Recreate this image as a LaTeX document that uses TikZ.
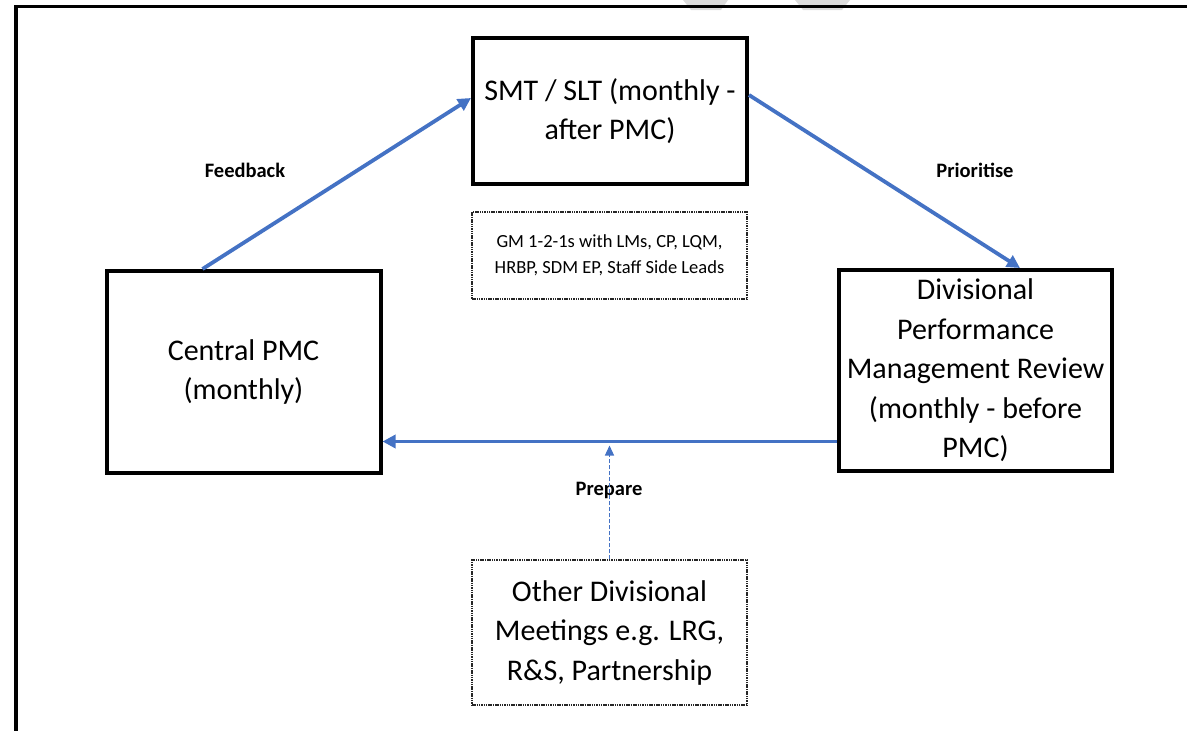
\documentclass[tikz,border=0pt]{standalone}
\usepackage{fontspec}
\setmainfont{Carlito}
\usetikzlibrary{arrows.meta}
\definecolor{arrowblue}{HTML}{4472C4}
\definecolor{wmgray}{HTML}{DCDCDC}
\begin{document}
\begin{tikzpicture}[x=1pt,y=-1pt,
  mainbox/.style={draw=black,line width=4pt,align=center,inner sep=2pt,
    font=\fontsize{30}{39.5}\selectfont},
  notebox/.style={draw=black!85,line width=1.3pt,dash pattern=on 1.5pt off 0.8pt,
    align=center,inner sep=2pt},
  lbl/.style={font=\bfseries\fontsize{20.5}{24}\selectfont,inner sep=0pt},
  bluearrow/.style={draw=arrowblue,line width=3.8pt,-{Triangle[length=13pt,width=13pt]}},
  dasharrow/.style={draw=arrowblue,line width=1.2pt,dash pattern=on 4pt off 2pt,
    -{Triangle[length=10pt,width=9pt]}}]
\useasboundingbox (0,0) rectangle (1187,731);
% faint watermark fragments
\fill[wmgray] (683,0) -- (728,0) -- (721,10) -- (691,10) -- cycle;
\fill[wmgray] (795,0) -- (850,0) -- (842,10) -- (803,10) -- cycle;
% frame
\draw[line width=3.6pt] (16,731) -- (16,6.5) -- (1187,6.5);
% boxes
\node[mainbox,minimum width=274pt,minimum height=146pt] (smt) at (610,111)
  {SMT / SLT (monthly -\\after PMC)};
\node[mainbox,minimum width=274pt,minimum height=202pt] (pmc) at (243.5,372)
  {Central PMC\\(monthly)};
\node[mainbox,minimum width=273pt,minimum height=201pt] (div) at (975.5,370.5)
  {Divisional\\Performance\\Management Review\\(monthly - before\\PMC)};
\node[notebox,minimum width=275pt,minimum height=87pt,
  font=\fontsize{18.5}{25.5}\selectfont] (gm) at (609.5,255.5)
  {GM 1-2-1s with LMs, CP, LQM,\\HRBP, SDM EP, Staff Side Leads};
\node[notebox,minimum width=275pt,minimum height=145pt,
  font=\fontsize{30}{39.5}\selectfont] (other) at (609.5,632.5)
  {Other Divisional\\Meetings e.g. LRG,\\R\&S, Partnership};
% labels
\node[lbl] (fb) at (245,170) {Feedback};
\node[lbl] (pr) at (975,170) {Prioritise};
\node[lbl] (pp) at (609,490) {Prepare};
% connectors
\draw[bluearrow] ([xshift=-41pt]pmc.north) -- ([yshift=13pt]smt.west);
\draw[bluearrow] ([yshift=16pt]smt.east) -- ([xshift=44.5pt]div.north);
\coordinate (hs) at ([yshift=-71pt]div.west);
\draw[bluearrow] (hs) -- (pmc.east |- hs);
\coordinate (hd) at ([yshift=-4pt]other.north |- hs);
\draw[dasharrow] (other.north) -- (hd);
\end{tikzpicture}
\end{document}
